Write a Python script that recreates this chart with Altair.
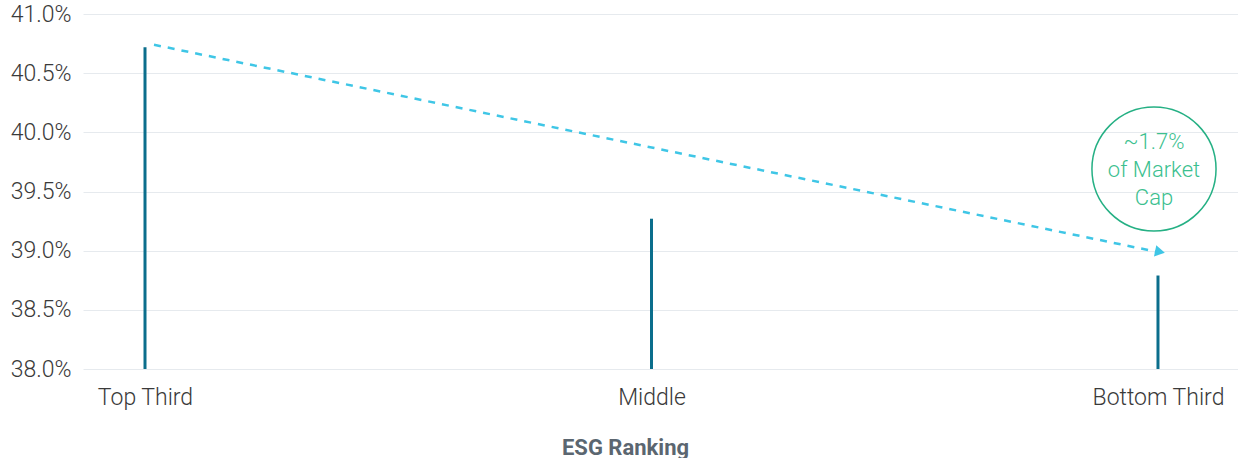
import altair as alt
import pandas as pd

categories = ["Top Third", "Middle", "Bottom Third"]
values = [40.72, 39.27, 38.79]

arrow_start = ["Top Third"]
arrow_end = ["Bottom Third"]
arrow_y1 = [40.74]
arrow_y2 = [38.99]

note_cat = ["Bottom Third"]
note_y = [39.69]
note_text = ["~1.7%\nof Market\nCap"]

FONT = "Roboto"

bars_df = pd.DataFrame({"cat": categories, "value": values})
arrow_df = pd.DataFrame({"start": arrow_start, "end": arrow_end, "y1": arrow_y1, "y2": arrow_y2})
note_df = pd.DataFrame({"cat": note_cat, "y": note_y, "text": note_text})

xscale = alt.Scale(type="point", domain=categories, padding=0.1402, align=0.4366)
yscale = alt.Scale(domain=[38, 41], nice=False, zero=False)

x_axis = alt.Axis(title="ESG Ranking", labelAngle=0, domain=False, ticks=False, grid=False,
                  labelFont=FONT, labelFontSize=23, labelColor="#3a3a3a", labelFontWeight=300,
                  labelPadding=17, titleFont=FONT, titleFontSize=22, titleFontWeight="bold",
                  titleColor="#5b6670", titlePadding=28, titleX=542)
y_axis = alt.Axis(title=None, values=[38, 38.5, 39, 39.5, 40, 40.5, 41],
                  labelExpr="format(datum.value, '.1f') + '%'", domain=False, ticks=False,
                  grid=True, gridColor="#e6eaee", gridWidth=1,
                  labelFont=FONT, labelFontSize=23, labelColor="#3a3a3a", labelFontWeight=300,
                  labelPadding=12)

bars = alt.Chart(bars_df).mark_rule(color="#0b6e8c", strokeWidth=3).encode(
    x=alt.X("cat:N", scale=xscale, axis=x_axis, sort=categories),
    y=alt.Y("value:Q", scale=yscale, axis=y_axis),
    y2=alt.Y2(datum=38),
)

arrow = alt.Chart(arrow_df).mark_rule(color="#3fc6e6", strokeWidth=2.5, strokeDash=[7, 7],
                                      xOffset=9, x2Offset=-1).encode(
    x=alt.X("start:N", scale=xscale, sort=categories),
    x2="end:N",
    y=alt.Y("y1:Q", scale=yscale),
    y2="y2:Q",
)

head = alt.Chart(arrow_df).mark_point(shape="triangle-right", filled=True, color="#3fc6e6",
                                      size=130, angle=11.6, opacity=1, xOffset=2).encode(
    x=alt.X("end:N", scale=xscale, sort=categories),
    y=alt.Y("y2:Q", scale=yscale),
)

circle = alt.Chart(note_df).mark_point(shape="circle", filled=False, color="#25b084",
                                       size=15400, strokeWidth=1.5, opacity=1, xOffset=-4).encode(
    x=alt.X("cat:N", scale=xscale, sort=categories),
    y=alt.Y("y:Q", scale=yscale),
)

label = alt.Chart(note_df).mark_text(font=FONT, fontSize=22, fontWeight=300, color="#3cbf8f",
                                     lineBreak="\n", lineHeight=28, align="center",
                                     baseline="middle", xOffset=-4, dy=-27).encode(
    x=alt.X("cat:N", scale=xscale, sort=categories),
    y=alt.Y("y:Q", scale=yscale),
    text="text:N",
)

chart = alt.layer(bars, arrow, head, circle, label).properties(
    width=1155, height=355, background="white",
    padding={"left": 10, "top": 3, "right": 0, "bottom": 0},
).configure_view(stroke=None)

chart.save("out.html", embed_options={"renderer": "svg", "actions": False})
